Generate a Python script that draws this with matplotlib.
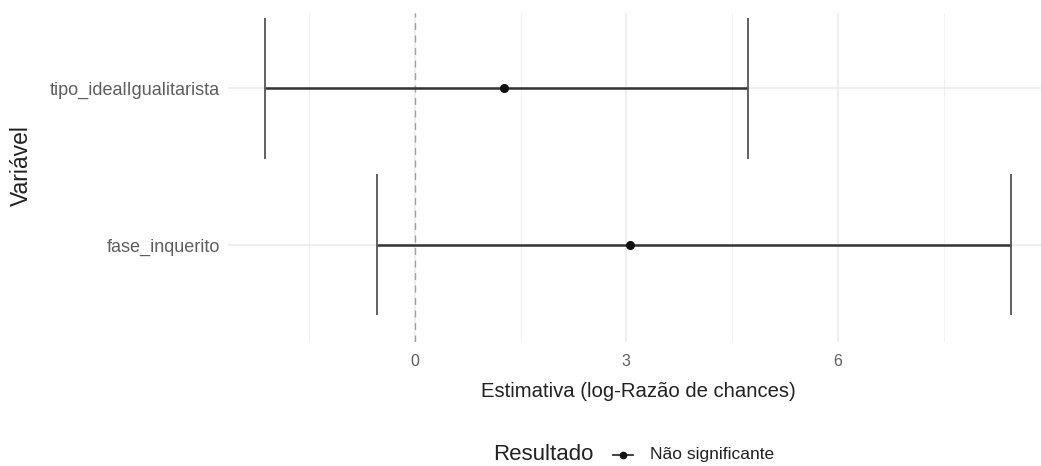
import matplotlib.pyplot as plt
from matplotlib.lines import Line2D
import numpy as np

# data (log odds ratio with confidence interval)
variables = ['fase_inquerito', 'tipo_idealIgualitarista']
estimate = [3.05, 1.26]
ci_low = [-0.54, -2.12]
ci_high = [8.45, 4.72]
major_ticks = [0, 3, 6]
minor_grid = [-1.5, 1.5, 4.5, 7.5]

plt.rcParams['font.family'] = ['Liberation Sans', 'DejaVu Sans']

W, H = 1041, 466
fig = plt.figure(figsize=(W / 100, H / 100), dpi=100)
fig.patch.set_facecolor('white')
ax = fig.add_axes([228 / W, (H - 342) / H, (1048 - 228) / W, (342 - 13) / H])

ypos = np.arange(1, len(variables) + 1)

# grid
for g in minor_grid:
    ax.axvline(g, color='#F2F2F2', lw=0.8, zorder=0)
for g in major_ticks:
    ax.axvline(g, color='#EBEBEB', lw=1.1, zorder=0)
for y in ypos:
    ax.axhline(y, color='#EBEBEB', lw=1.1, zorder=0)

ax.axvline(0, color='#A0A0A0', lw=1.0, ls=(0, (5, 4)), zorder=1)

# error bars
ax.hlines(ypos, ci_low, ci_high, color='#333333', lw=1.8, zorder=2)
ax.vlines(ci_low, ypos - 0.45, ypos + 0.45, color='#555555', lw=1.3, zorder=2)
ax.vlines(ci_high, ypos - 0.45, ypos + 0.45, color='#555555', lw=1.3, zorder=2)
ax.plot(estimate, ypos, 'o', color='#111111', ms=5.5, zorder=3)

ax.set_xlim(-2.65, 8.98)
ax.set_ylim(0.38, 2.48)
ax.set_xticks(major_ticks)
ax.set_yticks(ypos)
ax.set_yticklabels(variables)
ax.tick_params(axis='y', length=0, labelsize=13, labelcolor='#5E5E5E', pad=6)
ax.tick_params(axis='x', length=0, labelsize=11.5, labelcolor='#5E5E5E', pad=9)
for s in ax.spines.values():
    s.set_visible(False)

ax.set_xlabel('Estimativa (log-Razão de chances)', fontsize=14.6, color='#222222', labelpad=9)
ax.set_ylabel('Variável', fontsize=16.5, color='#222222')
ax.yaxis.set_label_coords((33 - 228) / (1048 - 228), (342 - 166) / (342 - 13))

# legend at bottom, drawn by hand in figure coordinates
ly = 1 - 455 / H
fig.text(493 / W, ly, 'Resultado', fontsize=16, color='#222222', ha='left', va='center')
fig.add_artist(Line2D([613 / W, 633 / W], [ly, ly], color='#333333', lw=1.3,
                      transform=fig.transFigure))
fig.add_artist(Line2D([623 / W], [ly], marker='o', ms=4.5, color='#111111',
                      transform=fig.transFigure))
fig.text(650 / W, ly, 'Não significante', fontsize=12.5, color='#222222', ha='left', va='center')

fig.savefig('out.png', dpi=100, facecolor='white')
